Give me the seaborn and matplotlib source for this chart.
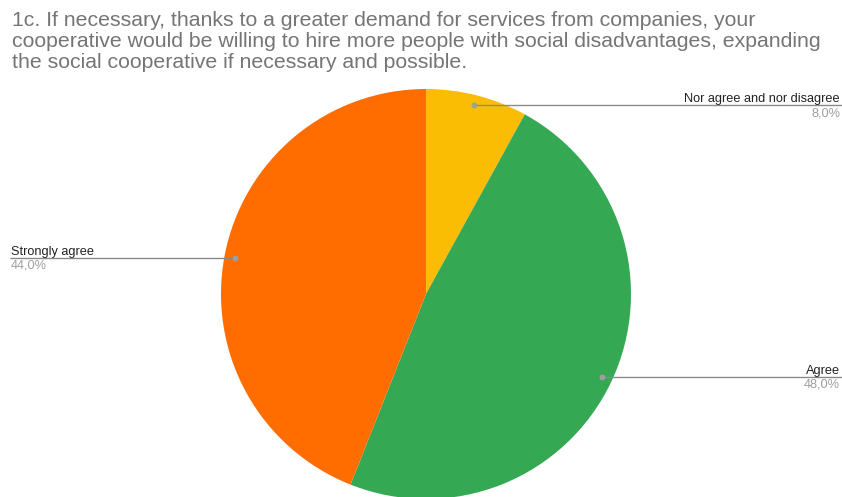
import numpy as np
import matplotlib
matplotlib.use("Agg")
import matplotlib.pyplot as plt
import seaborn as sns

# Survey answers, drawn clockwise from 12 o'clock
categories = ["Nor agree and nor disagree", "Agree", "Strongly agree"]
shares = [8.0, 48.0, 44.0]
pct_labels = ["8,0%", "48,0%", "44,0%"]
colors = ["#FBBC04", "#34A853", "#FF6D01"]
label_side = ["right", "right", "left"]

title_lines = [
    "1c. If necessary, thanks to a greater demand for services from companies, your",
    "cooperative would be willing to hire more people with social disadvantages, expanding",
    "the social cooperative if necessary and possible.",
]

sns.set_theme(style="white")
plt.rcParams["font.family"] = ["Liberation Sans", "DejaVu Sans"]

W, H = 842, 497
fig = plt.figure(figsize=(W / 100, H / 100), dpi=100)
ax = fig.add_axes([0, 0, 1, 1])

cx, cy, r = 426, H - 294, 205
wedges, _ = ax.pie(shares, colors=colors, startangle=90, counterclock=False,
                   center=(cx, cy), radius=r,
                   wedgeprops=dict(linewidth=0))
ax.set_xlim(0, W)
ax.set_ylim(0, H)
ax.set_axis_off()

# Leader lines from a dot inside each slice out to the figure edge
for w, name, pct, side in zip(wedges, categories, pct_labels, label_side):
    mid = np.deg2rad((w.theta1 + w.theta2) / 2)
    px = cx + 0.95 * r * np.cos(mid)
    py = cy + 0.95 * r * np.sin(mid)
    if side == "right":
        x_end, tx, ha = 842, 840, "right"
    else:
        x_end, tx, ha = 10, 11, "left"
    ax.plot([px, x_end], [py, py], color="#8a8a8a", lw=1.0, solid_capstyle="butt")
    ax.plot([px], [py], "o", color="#9e9e9e", ms=3.2)
    ax.text(tx, py + 3, name, ha=ha, va="baseline", fontsize=9.2, color="#222222")
    ax.text(tx, py - 11, pct, ha=ha, va="baseline", fontsize=9.2, color="#9e9e9e")

# Title, one baseline per line
for i, line in enumerate(title_lines):
    ax.text(12, H - (26 + 21 * i), line, ha="left", va="baseline", fontsize=15.3,
            color="#757575")

fig.savefig("out.png", dpi=100)
